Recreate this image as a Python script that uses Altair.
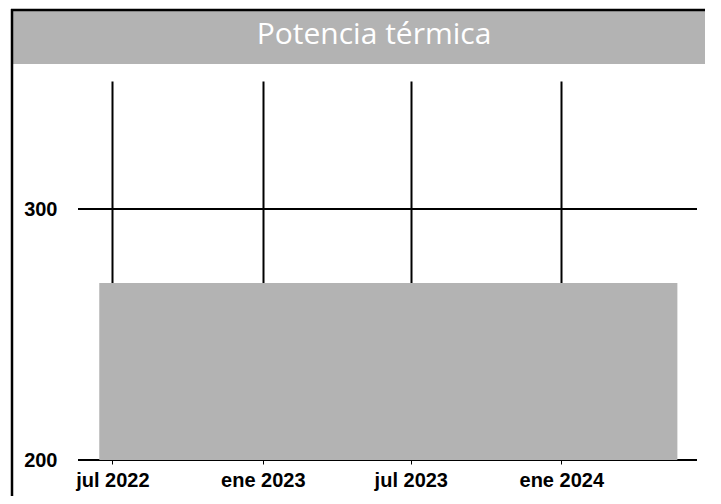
import altair as alt
import pandas as pd

# ---- data ----
title_text = ["Potencia térmica"]
fechas = ["2022-06-15", "2024-05-22"]
potencia = [270.5, 270.5]
x_domain = ["2022-05-20", "2024-06-15"]
tick_years = [2022, 2023, 2023, 2024]
tick_months = [7, 1, 7, 1]
tick_labels = ["jul 2022", "ene 2023", "jul 2023", "ene 2024"]
y_ticks = [200, 300]
y_domain = [200, 351]

GREY = "#b3b3b3"
FONT = "Liberation Sans"

df = pd.DataFrame({"fecha": fechas, "potencia": potencia, "base": [y_domain[0]] * len(fechas)})

expr = "''"
for yv, mv, lab in reversed(list(zip(tick_years, tick_months, tick_labels))):
    key = f"{yv}-{mv:02d}"
    expr = f"timeFormat(datum.value, '%Y-%m') == '{key}' ? '{lab}' : ({expr})"

x_scale = alt.Scale(domain=x_domain)
y_scale = alt.Scale(domain=y_domain, zero=False, nice=False)

x_axis = alt.Axis(
    values=[alt.DateTime(year=yv, month=mv, date=1) for yv, mv in zip(tick_years, tick_months)],
    labelExpr=expr,
    title=None,
    domain=False,
    grid=True,
    gridColor="black",
    gridWidth=2,
    gridOpacity=1,
    ticks=True,
    tickColor="black",
    tickSize=4,
    tickWidth=1,
    labelFont=FONT,
    labelFontWeight="bold",
    labelFontSize=20,
    labelColor="black",
    labelPadding=6,
    labelAngle=0,
)

y_axis = alt.Axis(
    values=y_ticks,
    title=None,
    domain=False,
    ticks=False,
    grid=False,
    labelFont=FONT,
    labelFontWeight="bold",
    labelFontSize=20,
    labelColor="black",
    labelPadding=21,
)

one = pd.DataFrame({"k": [0]})

# outer frame: left and top edges (right/bottom fall outside the window)
frame_left = alt.Chart(one).mark_rule(color="black", strokeWidth=2.5).encode(
    x=alt.value(-66), y=alt.value(-72), y2=alt.value(415)
)
frame_top = alt.Chart(one).mark_rule(color="black", strokeWidth=2.5).encode(
    x=alt.value(-67), x2=alt.value(627), y=alt.value(-71)
)

band = alt.Chart(one).mark_rect(color=GREY).encode(
    x=alt.value(-65), x2=alt.value(627), y=alt.value(-70), y2=alt.value(-17)
)

title = alt.Chart(pd.DataFrame({"t": title_text})).mark_text(
    font="Open Sans", fontWeight="normal", fontSize=30, color="white",
    align="center", baseline="alphabetic"
).encode(text="t:N", x=alt.value(296), y=alt.value(-37))

# horizontal grid lines at the y tick values
hgrid = alt.Chart(pd.DataFrame({"v": y_ticks})).mark_rule(color="black", strokeWidth=2).encode(
    y=alt.Y("v:Q", scale=y_scale, axis=y_axis),
    x=alt.datum(alt.DateTime(year=2022, month=5, date=20)),
    x2=alt.datum(alt.DateTime(year=2024, month=6, date=15)),
)

area = alt.Chart(df).mark_area(color=GREY, opacity=1).encode(
    x=alt.X("fecha:T", scale=x_scale, axis=x_axis),
    y=alt.Y("potencia:Q", scale=y_scale, axis=y_axis),
    y2="base:Q",
)

chart = alt.layer(band, frame_left, frame_top, title, hgrid, area).properties(
    width=619,
    height=379,
    autosize=alt.AutoSizeParams(type="none"),
    padding={"left": 70, "top": 73, "right": 8, "bottom": 36},
).configure_view(stroke=None)

chart.save("out.html", embed_options={"renderer": "svg", "actions": False})
